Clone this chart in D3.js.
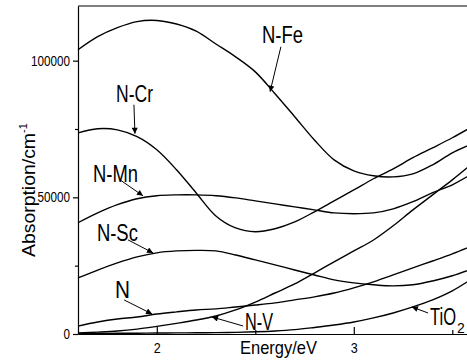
<!DOCTYPE html>
<html lang="en">
<head>
    <meta charset="UTF-8">
    <title>Absorption spectra</title>
    <script src="https://d3js.org/d3.v7.min.js"></script>
    <style>
        body {
            margin: 0;
            background: #fff;
            font-family: "Liberation Sans", Arial, sans-serif;
        }
        .axis path, .axis line {
            stroke: #000;
            stroke-width: 1.2;
        }
        .axis text {
            font-family: "Liberation Sans", Arial, sans-serif;
            font-size: 14px;
            fill: #000;
        }
        .curve {
            fill: none;
            stroke: #000;
            stroke-width: 1.4;
        }
        .label {
            font-size: 23.5px;
            fill: #000;
        }
    </style>
</head>
<body>
    <div id="chart"></div>

    <script>
        // photon energy (eV) sampled across the plot
        const energy = [1.6, 1.7, 1.8, 1.9, 2.0, 2.1, 2.2, 2.3, 2.4, 2.5, 2.6,
                        2.7, 2.8, 2.9, 3.0, 3.1, 3.2, 3.3, 3.4, 3.5, 3.6];

        // absorption coefficient (cm^-1)
        const nFe  = [104000, 108800, 112100, 114300, 114700, 113400, 110800, 106100, 101400, 95900, 87900,
                      79500, 71000, 63700, 59700, 57900, 57500, 58600, 61900, 66300, 69600];
        const nCr  = [73600, 75100, 74700, 72200, 67400, 60100, 51600, 43200, 38800, 37400, 38500,
                      41000, 44700, 48700, 52700, 56800, 60400, 64500, 68100, 71800, 75800];
        const nMn  = [40700, 44300, 47300, 49500, 50600, 50900, 50900, 50600, 49800, 48700, 47600,
                      46500, 45400, 44300, 44000, 44300, 45800, 48400, 51700, 54600, 58600];
        const nSc  = [20500, 23400, 26000, 28200, 29700, 30400, 30600, 30400, 28900, 27100, 25300,
                      23400, 21600, 19800, 18700, 18000, 17600, 18000, 19400, 21300, 23800];
        const nN   = [2900, 4400, 5500, 6200, 7300, 8100, 8800, 9200, 9900, 10600, 11400,
                      12500, 13600, 15000, 16900, 19100, 21600, 24200, 26700, 29300, 32200];
        const nV   = [400, 700, 1100, 1800, 2800, 3900, 5100, 6600, 8800, 11700, 15000,
                      18300, 22300, 26400, 30400, 34400, 39600, 45400, 50900, 56400, 62300];
        const tio2 = [150, 200, 250, 300, 350, 400, 450, 500, 600, 800, 1100,
                      1600, 2400, 3300, 4400, 5900, 7700, 9900, 12500, 15800, 20200];

        const seriesList = [nFe, nCr, nMn, nSc, nN, nV, tio2];

        // tick values
        const xMajorTicks = [2, 3];
        const xMinorTicks = [2.5, 3.5];
        const yMajorTicks = [0, 50000, 100000];
        const yMinorTicks = [25000, 75000];

        // curve labels: text position and arrow (from -> to), in data units
        const labelNames = ["N-Fe", "N-Cr", "N-Mn", "N-Sc", "N", "N-V", "TiO"];
        const labelSubs  = ["", "", "", "", "", "", "2"];
        const labelPos   = [[2.534, 106600], [1.793, 84980], [1.676, 55680], [1.696, 34070],
                            [1.788, 13190], [2.448, 1465], [3.387, 3300]];
        const labelWidth = [41, 37, 45, 41, 15, 28, 26];
        const arrowFrom  = [[2.630, 105100], [1.884, 83880], [1.813, 56410], [1.854, 34430],
                            [1.834, 12450], [2.438, 2930], [3.377, 7690]];
        const arrowTo    = [[2.575, 88650], [1.889, 73260], [1.930, 50550], [1.981, 29670],
                            [1.976, 7330], [2.280, 6230], [3.295, 9890]];

        const width = 467, height = 364;
        const margin = {left: 78, top: 6, bottom: 30};

        const svg = d3.select("#chart").append("svg")
            .attr("width", width)
            .attr("height", height);

        const x = d3.scaleLinear()
            .domain([1.6, 3.6])
            .range([margin.left, margin.left + 2 * 197]);

        const y = d3.scaleLinear()
            .domain([0, 120000])
            .range([height - margin.bottom, margin.top]);

        // arrow head
        svg.append("defs").append("marker")
            .attr("id", "arrow")
            .attr("viewBox", "0 0 10 10")
            .attr("refX", 10)
            .attr("refY", 5)
            .attr("markerWidth", 8)
            .attr("markerHeight", 6)
            .attr("markerUnits", "userSpaceOnUse")
            .attr("orient", "auto")
            .append("path")
            .attr("d", "M0,0 L10,5 L0,10 Z")
            .attr("fill", "#000");

        // curves
        const line = d3.line()
            .x((d, i) => x(energy[i]))
            .y(d => y(d))
            .curve(d3.curveCatmullRom.alpha(0.5));

        svg.selectAll("path.curve")
            .data(seriesList)
            .enter().append("path")
            .attr("class", "curve")
            .attr("d", d => line(d));

        // top frame line
        svg.append("line")
            .attr("x1", x(1.6)).attr("x2", x(3.6))
            .attr("y1", y(120000)).attr("y2", y(120000))
            .attr("stroke", "#000")
            .attr("stroke-width", 1.2);

        // left axis
        svg.append("g")
            .attr("class", "axis")
            .attr("transform", `translate(${margin.left},0)`)
            .call(d3.axisLeft(y).tickValues(yMajorTicks).tickFormat(d3.format("d"))
                .tickSizeInner(5).tickSizeOuter(0).tickPadding(3))
            .selectAll("text")
            .attr("textLength", d => String(d).length * 6.5)
            .attr("lengthAdjust", "spacingAndGlyphs");

        svg.append("g")
            .attr("class", "axis")
            .attr("transform", `translate(${margin.left},0)`)
            .call(d3.axisLeft(y).tickValues(yMinorTicks).tickFormat("")
                .tickSizeInner(3).tickSizeOuter(0))
            .select(".domain").remove();

        // bottom axis, ticks pointing inward
        svg.append("g")
            .attr("class", "axis")
            .attr("transform", `translate(0,${height - margin.bottom})`)
            .call(d3.axisBottom(x).tickValues(xMajorTicks).tickFormat(d3.format("d"))
                .tickSizeInner(-7).tickSizeOuter(0).tickPadding(9))
            .selectAll("text")
            .attr("textLength", 7)
            .attr("lengthAdjust", "spacingAndGlyphs");

        svg.append("g")
            .attr("class", "axis")
            .attr("transform", `translate(0,${height - margin.bottom})`)
            .call(d3.axisBottom(x).tickValues(xMinorTicks).tickFormat("")
                .tickSizeInner(-4).tickSizeOuter(0))
            .select(".domain").remove();

        // axis titles
        svg.append("text")
            .attr("x", 240)
            .attr("y", 354)
            .attr("font-size", "18.5px")
            .attr("textLength", 77)
            .attr("lengthAdjust", "spacingAndGlyphs")
            .text("Energy/eV");

        const yTitle = svg.append("text")
            .attr("transform", "translate(35,257) rotate(-90)")
            .attr("font-size", "18.5px");
        yTitle.append("tspan")
            .attr("textLength", 124)
            .attr("lengthAdjust", "spacingAndGlyphs")
            .text("Absorption/cm");
        yTitle.append("tspan")
            .attr("dy", -8)
            .attr("font-size", "11px")
            .text("-1");

        // curve labels and arrows
        labelNames.forEach((name, i) => {
            const t = svg.append("text")
                .attr("class", "label")
                .attr("x", x(labelPos[i][0]))
                .attr("y", y(labelPos[i][1]));
            t.append("tspan")
                .attr("textLength", labelWidth[i])
                .attr("lengthAdjust", "spacingAndGlyphs")
                .text(name);
            if (labelSubs[i]) {
                t.append("tspan")
                    .attr("dx", 1)
                    .attr("dy", 8)
                    .attr("font-size", "14px")
                    .text(labelSubs[i]);
            }

            svg.append("line")
                .attr("x1", x(arrowFrom[i][0])).attr("y1", y(arrowFrom[i][1]))
                .attr("x2", x(arrowTo[i][0])).attr("y2", y(arrowTo[i][1]))
                .attr("stroke", "#000")
                .attr("stroke-width", 1)
                .attr("marker-end", "url(#arrow)");
        });
    </script>
</body>
</html>
